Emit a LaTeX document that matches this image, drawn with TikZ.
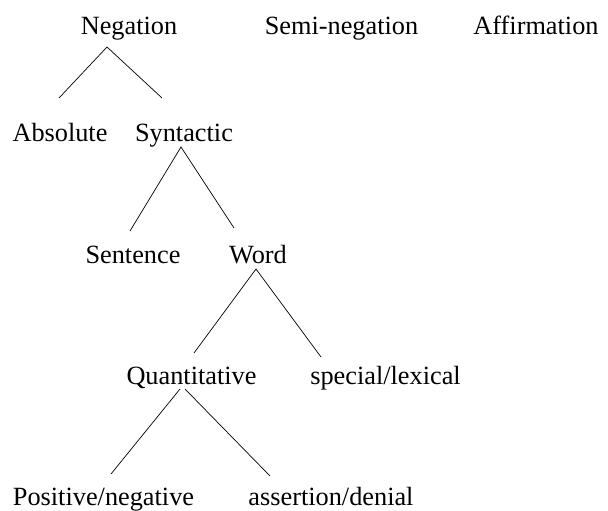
\documentclass[tikz,border=0pt]{standalone}
\usepackage{fontspec}
\setmainfont{Liberation Serif}
\begin{document}
\begin{tikzpicture}[x=1pt,y=-1pt,
  lbl/.style={anchor=base,inner sep=0pt,font=\fontsize{26.3}{30}\selectfont},
  branch/.style={line width=0.7pt,black}]
\useasboundingbox (0,0) rectangle (608,511);
\node[lbl] (neg) at (129,35) {Negation};
\node[lbl] (semi) at (341.5,35) {Semi-negation};
\node[lbl] (aff) at (536,35) {Affirmation};
\node[lbl] (abs) at (60,141) {Absolute};
\node[lbl] (syn) at (184,141) {Syntactic};
\node[lbl] (sen) at (133,263) {Sentence};
\node[lbl] (word) at (258,263) {Word};
\node[lbl] (quant) at (191.5,384) {Quantitative};
\node[lbl] (spec) at (385.5,384) {special/lexical};
\node[lbl] (pos) at (103.5,505) {Positive/negative};
\node[lbl] (ass) at (331,505) {assertion/denial};
% connector end points
\coordinate (negT) at (107,47);
\coordinate (absT) at (59,98);
\coordinate (synT) at (162,98);
\coordinate (synB) at (181,147);
\coordinate (senT) at (130,231);
\coordinate (wordT) at (234,228);
\coordinate (wordB) at (256,269);
\coordinate (quantT) at (194,353);
\coordinate (specT) at (321,357);
\coordinate (quantBL) at (180,389);
\coordinate (quantBR) at (185,389);
\coordinate (posT) at (111,474);
\coordinate (assT) at (270,476);
\draw[branch] (absT) -- (negT) -- (synT);
\draw[branch] (senT) -- (synB) -- (wordT);
\draw[branch] (quantT) -- (wordB) -- (specT);
\draw[branch] (posT) -- (quantBL);
\draw[branch] (quantBR) -- (assT);
\end{tikzpicture}
\end{document}
